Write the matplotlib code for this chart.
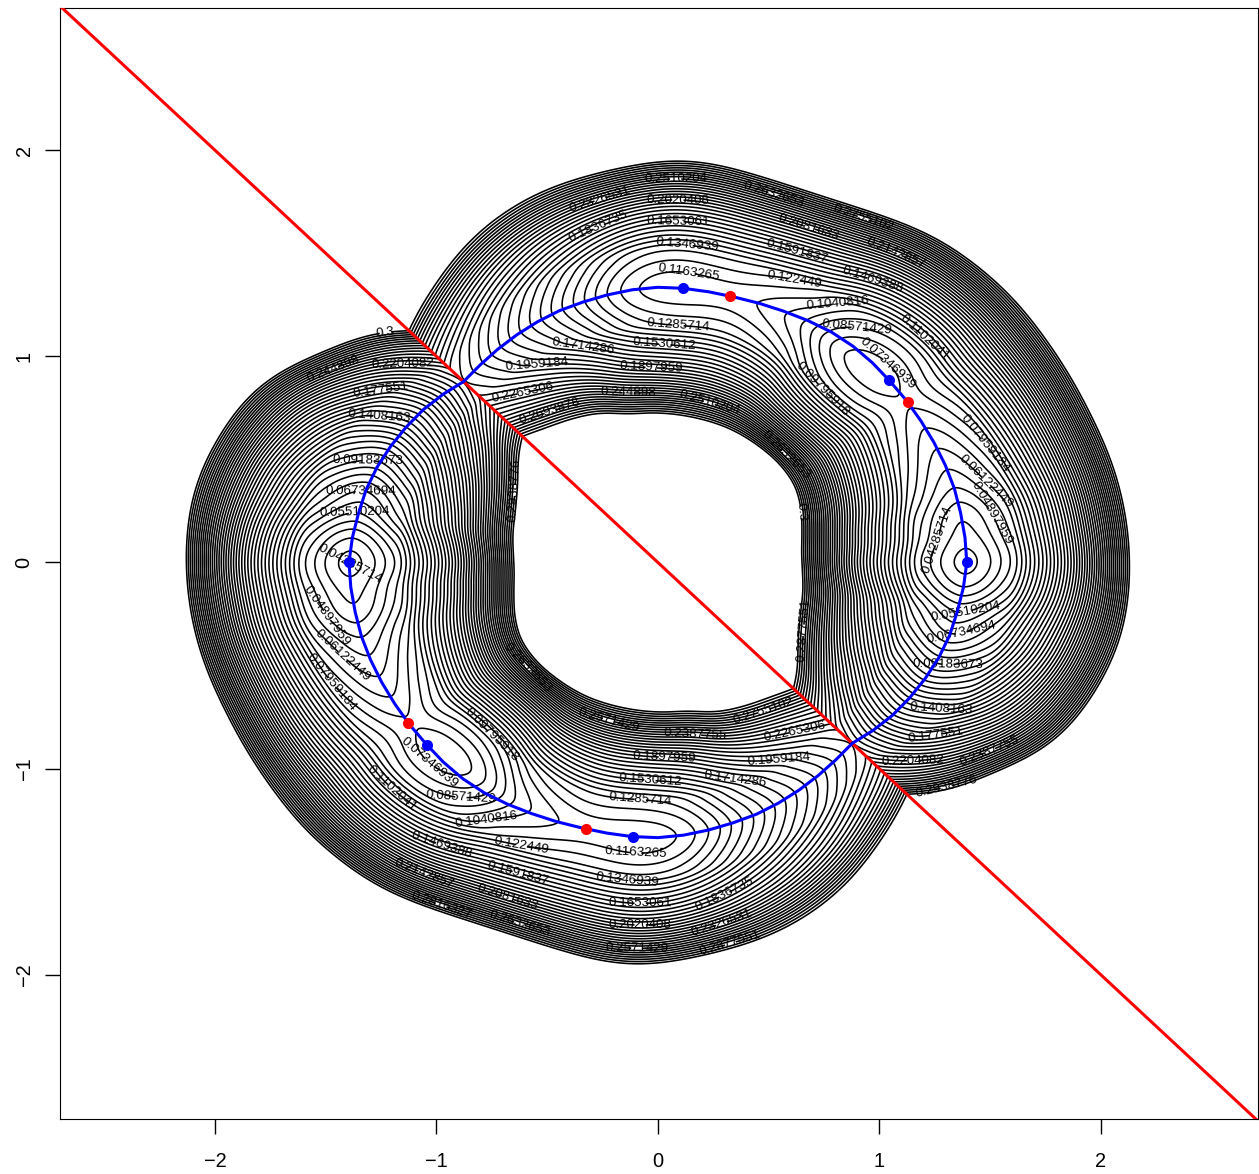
import numpy as np
import matplotlib
matplotlib.use("Agg")
import matplotlib.pyplot as plt

plt.rcParams['font.family'] = ['Liberation Sans', 'DejaVu Sans']

# angles of the table, half plane above the red line, other half is the same turned by 180 deg
theta_deg = np.arange(-45, 140, 5)
r_outer = [1.59, 1.72, 1.80, 1.91, 2.00, 2.05, 2.09, 2.12, 2.13, 2.13, 2.125, 2.115, 2.10, 2.08, 2.07, 2.06, 2.055, 2.05, 2.035,
           2.02, 1.99, 1.955, 1.93, 1.92, 1.925, 1.94, 1.955, 1.945, 1.92, 1.90, 1.88, 1.85, 1.81, 1.76, 1.70, 1.645, 1.59]
r_inner = [.865, .82, .77, .73, .705, .685, .675, .665, .655, .65, .65, .66, .672, .69, .705, .72, .725, .727, .727,
           .725, .725, .725, .725, .723, .722, .722, .723, .725, .727, .73, .748, .771, .785, .80, .815, .835, .865]
r_valley = [1.241, 1.265, 1.293, 1.312, 1.332, 1.35, 1.364, 1.373, 1.385, 1.395, 1.39, 1.387, 1.386, 1.38, 1.373, 1.365, 1.355, 1.345, 1.33,
            1.32, 1.32, 1.325, 1.33, 1.335, 1.332, 1.334, 1.336, 1.334, 1.33, 1.316, 1.308, 1.30, 1.288, 1.276, 1.262, 1.247, 1.241]
z_valley = [.215, .19, .16, .135, .108, .087, .068, .0555, .0365, .0275, .034, .0385, .049, .0565, .063, .0695, .075, .070, .069,
            .073, .083, .097, .105, .110, .113, .113, .112, .113, .118, .1285, .142, .155, .168, .180, .192, .204, .215]
# height across the band: distance from valley / half width -> rise / rise up to 0.3
profile_s = [-.08, 0, .08, .16, .22, .30, .40, .51, .68, .86, .93, 1, 1.6, 3.5]
profile_u = [.01, 0, .01, .033, .055, .09, .17, .27, .46, .74, .87, 1, 2.2, 6]

# blue curve in polar readings, from (1.4, 0) round the top to (-1.4, 0)
blue_theta = np.arange(0, 185, 5)
blue_r = [1.395, 1.392, 1.388, 1.386, 1.381, 1.376, 1.372, 1.370, 1.368, 1.37, 1.37, 1.365, 1.355, 1.345, 1.338, 1.333, 1.333,
          1.335, 1.335, 1.328, 1.318, 1.308, 1.300, 1.288, 1.275, 1.262, 1.25, 1.241, 1.268, 1.293, 1.313, 1.332, 1.35, 1.364,
          1.373, 1.385, 1.395]
blue_pts_x = [1.395, 1.043, .113, -1.395, -1.043, -.113]
blue_pts_y = [0, .885, 1.331, 0, -.885, -1.331]
red_pts_x = [1.129, .325, -1.129, -.325]
red_pts_y = [.778, 1.292, -.778, -1.292]
red_x = [-2.7, 2.7]
red_y = [2.7, -2.7]

# contour labels: level number and where it sits
label_k = [38, 41, 43, 45, 33, 30, 27, 34, 35, 22, 26, 24, 20, 19, 17, 18, 14, 12, 16, 13, 10, 8, 7, 9, 11, 15, 23, 29, 36, 39, 48,
           21, 25, 28, 32, 31, 37, 40, 44, 41, 43, 49, 47, 48, 49, 40, 36, 29, 23, 15, 11, 9, 8, 10, 13, 18, 16, 12, 14, 17, 20,
           19, 22, 26, 24, 35, 34, 43, 46, 27, 33, 42, 38, 30, 47, 21, 25, 28, 31, 32, 37, 39, 45, 42, 43]
label_x = [-.27, .08, .53, .93, .09, -.26, .09, .69, 1.08, .13, .64, .98, .62, .14, .81, 1.22, .90, 1.04, .75, 1.47, 1.48, 1.48, 1.26,
           1.39, 1.37, 1.31, 1.28, 1.25, 1.15, 1.49, 1.30, .09, .03, -.34, -.55, -.03, -.62, -.135, -.49, .22, .53, .62, .67, -.645,
           -1.23, -1.46, -1.15, -1.25, -1.26, -1.31, -1.34, -1.37, -1.42, -1.38, -1.47, -1.22, -.76, -1.03, -.89, -.77, -.62,
           -.10, -.135, -.64, -1.0, -1.07, -.69, -.63, -.98, -.08, -.08, -.095, .29, .30, .325, -.08, -.036, .35, .03, .55, .63, .17,
           .48, -.22, -.53]
label_y = [1.79, 1.85, 1.81, 1.68, 1.74, 1.61, 1.65, 1.65, 1.51, 1.52, 1.55, 1.40, 1.40, 1.40, 1.29, 1.11, 1.14, .97, .85, .57, .39, .22,
           .11, -.23, -.34, -.45, -.69, -.81, -.92, -.89, -1.08, 1.14, 1.04, 1.03, 1.01, .95, .875, .82, .74, .73, .47, .24, -.33, .35,
           1.11, .92, .92, .81, .69, .45, .32, .21, -.20, -.40, -.58, -1.12, -.85, -.97, -1.15, -1.29, -1.40, -1.40, -1.525,
           -1.54, -1.44, -1.54, -1.66, -1.77, -1.665, -1.645, -1.75, -1.86, -1.76, -1.61, -1.84, -1.16, -1.055, -1.055, -.93, -1.0,
           -.87, -.83, -.725, -.75, -.45]

levels = np.linspace(0, 0.3, 50)


def smooth(t_new, t, v):
    # cubic hermite through the table values
    t = np.asarray(t, float)
    v = np.asarray(v, float)
    m = np.gradient(v, t)
    i = np.clip(np.searchsorted(t, t_new) - 1, 0, len(t) - 2)
    h = t[i + 1] - t[i]
    a = (t_new - t[i]) / h
    return ((2*a**3 - 3*a**2 + 1) * v[i] + (a**3 - 2*a**2 + a) * h * m[i]
            + (-2*a**3 + 3*a**2) * v[i + 1] + (a**3 - a**2) * h * m[i + 1])


def soften(v, n):
    # running hann window, ends mirrored so the crease value stays put
    w = np.hanning(2*n + 1)
    w = w / w.sum()
    left = 2*v[0] - v[n:0:-1]
    right = 2*v[-1] - v[-2:-n-2:-1]
    return np.convolve(np.concatenate([left, v, right]), w, mode='valid')


# build the field on a polar grid
t_half = np.linspace(-45, 135, 361)
r_grid = np.linspace(0.35, 2.45, 281)
ro = soften(smooth(t_half, theta_deg, r_outer), 16)
ri = soften(smooth(t_half, theta_deg, r_inner), 16)
rv = soften(smooth(t_half, theta_deg, r_valley), 24)
zv = soften(smooth(t_half, theta_deg, z_valley), 8)
Z = np.zeros((len(t_half), len(r_grid)))
for j in range(len(t_half)):
    w = np.where(r_grid >= rv[j], ro[j] - rv[j], rv[j] - ri[j])
    s = np.abs(r_grid - rv[j]) / w
    Z[j] = zv[j] + (0.3 - zv[j]) * smooth(s, profile_s, profile_u)
Z = np.vstack([Z, Z[1:]])
t_full = np.radians(np.concatenate([t_half, t_half[1:] + 180]))
X = np.outer(np.cos(t_full), r_grid)
Y = np.outer(np.sin(t_full), r_grid)

fig = plt.figure(figsize=(12.59, 11.74), dpi=100)
ax = fig.add_axes([60/1259, 1 - 1119/1174, 1198/1259, 1111/1174])
ax.set_xlim(-2.7, 2.71)
ax.set_ylim(-2.7, 2.69)
cs = ax.contour(X, Y, Z, levels=levels, colors='k', linewidths=1.15, linestyles='solid')
cs.clabel(manual=[], fmt='%.7g', fontsize=9.6, colors='k')
for k, x, y in zip(label_k, label_x, label_y):
    cs.labelIndiceList = [k]
    cs.add_label_near(x, y, inline=True, inline_spacing=2)
# this one runs straight across its ring in the original
ax.text(-1.39, -.005, '0.04285714', fontsize=9.6, rotation=-28, ha='center', va='center', rotation_mode='anchor')

blue_a = np.radians(blue_theta)
blue_x = np.array(blue_r) * np.cos(blue_a)
blue_y = np.array(blue_r) * np.sin(blue_a)
ax.plot(red_x, red_y, color='red', lw=2.2, zorder=5)
ax.plot(blue_x, blue_y, color='blue', lw=2.2, zorder=6)
ax.plot(-blue_x, -blue_y, color='blue', lw=2.2, zorder=6)
ax.plot(blue_pts_x, blue_pts_y, 'o', color='blue', ms=8, mew=0, zorder=7)
ax.plot(red_pts_x, red_pts_y, 'o', color='red', ms=8, mew=0, zorder=7)

ax.set_xticks([-2, -1, 0, 1, 2])
ax.set_yticks([-2, -1, 0, 1, 2])
ax.tick_params(length=11, width=1.0, labelsize=14.4)
ax.tick_params(axis='x', pad=13)
ax.tick_params(axis='y', pad=8)
for t in ax.get_yticklabels():
    t.set_rotation(90)
    t.set_va('center')

fig.savefig('out.png', dpi=100)
